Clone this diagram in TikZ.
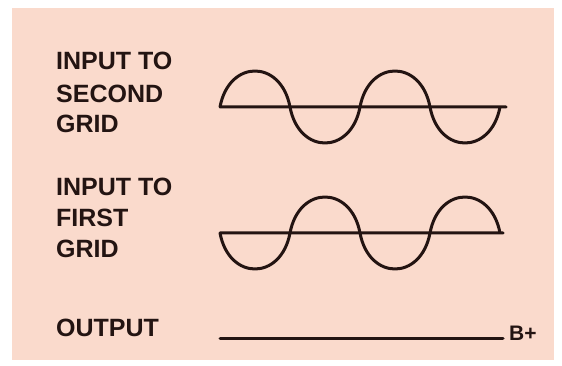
\documentclass[tikz,border=0pt]{standalone}
\usepackage{fontspec}
\setmainfont{Liberation Sans}
\definecolor{peach}{RGB}{250,218,204}
\definecolor{ink}{RGB}{35,20,18}
\begin{document}
\begin{tikzpicture}[x=1pt,y=1pt,
  lbl/.style={anchor=base west,inner sep=0pt,text=ink,font=\fontsize{25}{30}\selectfont\bfseries},
  wave/.style={draw=ink,line width=3pt,line join=round,line cap=round}]
\fill[white] (0,0) rectangle (562,366);
\fill[peach] (12,6) rectangle (554,358);
\useasboundingbox (0,0) rectangle (562,366);
% labels
\node[lbl] (l1) at (56,296) {INPUT TO};
\node[lbl] (l2) at (56,263) {SECOND};
\node[lbl] (l3) at (56,233) {GRID};
\node[lbl] (l4) at (56,170) {INPUT TO};
\node[lbl] (l5) at (56,139) {FIRST};
\node[lbl] (l6) at (56,108) {GRID};
\node[lbl] (l7) at (56,29) {OUTPUT};
% upper wave (second grid)
\coordinate (a0) at (220,259);
\coordinate (a4) at (506,259);
\draw[wave] (a0) .. controls +(9,48) and +(-9,48) .. ++(70,0)
  .. controls +(9,-48) and +(-9,-48) .. ++(70,0)
  .. controls +(9,48) and +(-9,48) .. ++(70,0)
  .. controls +(9,-48) and +(-9,-48) .. ++(70,0) -- (a4) -- (a0);
% lower wave (first grid)
\coordinate (b0) at (220,133);
\coordinate (b4) at (503,133);
\draw[wave] (b0) .. controls +(9,-48) and +(-9,-48) .. ++(70,0)
  .. controls +(9,48) and +(-9,48) .. ++(70,0)
  .. controls +(9,-48) and +(-9,-48) .. ++(70,0)
  .. controls +(9,48) and +(-9,48) .. ++(70,0) -- (b4) -- (b0);
% output line
\coordinate (c0) at (220,27);
\coordinate (c1) at (503,27);
\node[anchor=base west,inner sep=0pt,text=ink,font=\fontsize{21}{25}\selectfont\bfseries] (bp) at (509,25) {B+};
\draw[wave] (c0) -- (c1);
\end{tikzpicture}
\end{document}
